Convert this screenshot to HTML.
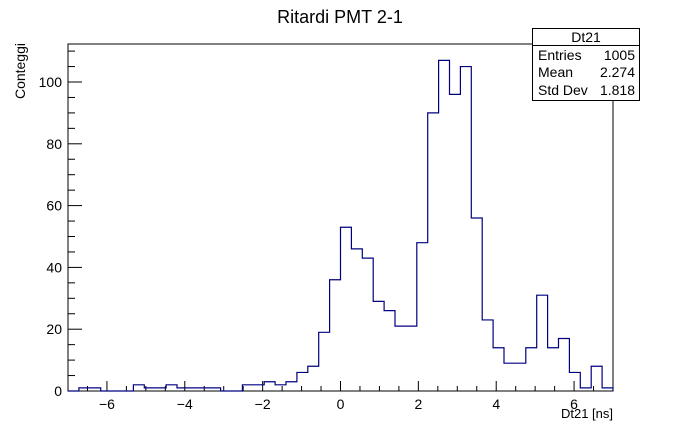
<!DOCTYPE html>
<html><head><meta charset="utf-8"><style>
body{margin:0;background:#fff;}
svg{display:block;font-family:"Liberation Sans",sans-serif;}
</style></head><body>
<svg id="c" width="682" height="435">
<text x="340" y="23" font-size="18" text-anchor="middle">Ritardi PMT 2-1</text>
<text x="0" y="0" font-size="14" text-anchor="end" transform="translate(25,43) rotate(-90)">Conteggi</text>
<text x="613" y="418" font-size="13" text-anchor="end">Dt21 [ns]</text>
<rect x="68" y="44" width="545" height="347" fill="none" stroke="#000" stroke-width="1"/>
<g id="axes"></g>
<path id="hist" fill="none" stroke="#000080" stroke-width="1.2"/>
<g>
<rect x="532.5" y="28.5" width="107" height="72" fill="#fff" stroke="#000"/>
<line x1="532.5" y1="45.5" x2="639.5" y2="45.5" stroke="#000"/>
<text x="586" y="42" font-size="14" text-anchor="middle">Dt21</text>
<text x="538" y="60" font-size="14">Entries</text><text x="635" y="60" font-size="14" text-anchor="end">1005</text>
<text x="538" y="77" font-size="14">Mean</text><text x="635" y="77" font-size="14" text-anchor="end">2.274</text>
<text x="538" y="95" font-size="14">Std Dev</text><text x="635" y="95" font-size="14" text-anchor="end">1.818</text>
</g>
</svg>
<script>
const binMin = -7, binMax = 7;
const counts = [0,1,1,0,0,0,2,1,1,2,1,1,1,1,0,0,2,2,3,2,3,6,8,19,36,53,46,43,29,26,21,21,48,90,107,96,105,56,23,14,9,9,14,31,14,17,6,1,8,1];
const xTicks = [-6,-4,-2,0,2,4,6];
const yTicks = [0,20,40,60,80,100];
const X0=68,X1=613,Y0=391,Y1=44,yMax=112.3;
const sx=v=>X0+(v-binMin)/(binMax-binMin)*(X1-X0);
const sy=v=>Y0-v/yMax*(Y0-Y1);
const ns="http://www.w3.org/2000/svg";
const ax=document.getElementById('axes');
function ln(x1,y1,x2,y2){const l=document.createElementNS(ns,'line');l.setAttribute('x1',x1);l.setAttribute('y1',y1);l.setAttribute('x2',x2);l.setAttribute('y2',y2);l.setAttribute('stroke','#000');ax.appendChild(l);return l;}
function tx(x,y,s,a){const t=document.createElementNS(ns,'text');t.setAttribute('x',x);t.setAttribute('y',y);t.setAttribute('font-size','14');t.setAttribute('text-anchor',a);t.textContent=s;ax.appendChild(t);return t;}
for(let v=-6.5;v<=7;v+=0.5){const x=sx(v);const major=Math.abs(v%2)<1e-9;const l=ln(x,Y0,x,Y0-(major?10:5));

}
xTicks.forEach(v=>{const t=tx(sx(v),409,(v<0?'\u2212':'')+Math.abs(v),'middle');

});
for(let v=0;v<=110;v+=5){const y=sy(v);const major=v%20===0;const l=ln(X0,y,X0+(major?14:7),y);

}
yTicks.forEach(v=>{const t=tx(62,sy(v)+5,String(v),'end');

});
const w=(binMax-binMin)/counts.length;
let d='M'+sx(binMin)+','+sy(0);
counts.forEach((c,i)=>{d+=' L'+sx(binMin+i*w)+','+sy(c)+' L'+sx(binMin+(i+1)*w)+','+sy(c);});
d+=' L'+sx(binMax)+','+sy(0);
document.getElementById('hist').setAttribute('d',d);
</script>
</body></html>
